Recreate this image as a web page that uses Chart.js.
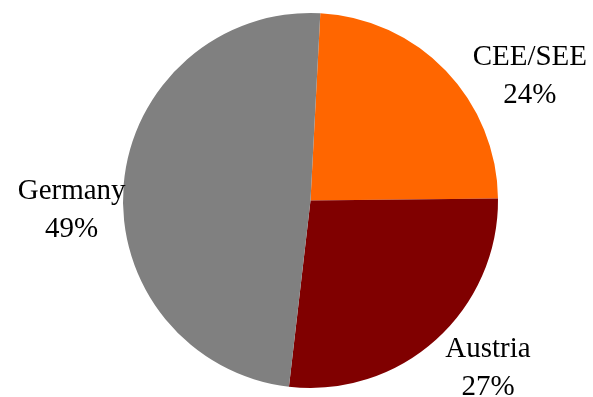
<!DOCTYPE html>
<html>
<head>
<meta charset="utf-8">
<script src="https://cdn.jsdelivr.net/npm/chart.js@4/dist/chart.umd.min.js"></script>
<style>
  html, body { margin: 0; padding: 0; background: #fff; }
  #wrap { width: 593px; height: 397px; }
</style>
</head>
<body>
<div id="wrap"><canvas id="pie"></canvas></div>
<script>
// 地域別の構成比
const regions = ['CEE/SEE', 'Austria', 'Germany'];
const shares = [24, 27, 49];
const sliceColors = ['#FF6600', '#800000', '#808080'];

// ラベル位置の微調整（円周上の中点からのずれ）
const labelNudge = [[84, 6], [52, 29], [-52, 26]];

const outsideLabels = {
  id: 'outsideLabels',
  afterDatasetsDraw(chart) {
    const ctx = chart.ctx;
    const meta = chart.getDatasetMeta(0);
    ctx.save();
    ctx.font = '29px Liberation Serif, DejaVu Serif, Times, serif';
    ctx.fillStyle = '#000';
    ctx.textAlign = 'center';
    ctx.textBaseline = 'middle';
    meta.data.forEach((arc, i) => {
      const mid = (arc.startAngle + arc.endAngle) / 2;
      const x = arc.x + Math.cos(mid) * arc.outerRadius + labelNudge[i][0];
      const y = arc.y + Math.sin(mid) * arc.outerRadius + labelNudge[i][1];
      ctx.fillText(regions[i], x, y - 19);
      ctx.fillText(shares[i] + '%', x, y + 19);
    });
    ctx.restore();
  }
};

new Chart(document.getElementById('pie').getContext('2d'), {
  type: 'pie',
  data: {
    labels: regions,
    datasets: [{
      data: shares,
      backgroundColor: sliceColors,
      borderWidth: 0
    }]
  },
  options: {
    responsive: true,
    maintainAspectRatio: false,
    animation: false,
    rotation: 3,
    layout: {
      padding: { left: 123, right: 95, top: 13, bottom: 9 }
    },
    plugins: {
      legend: { display: false },
      tooltip: { enabled: false }
    }
  },
  plugins: [outsideLabels]
});
</script>
</body>
</html>
